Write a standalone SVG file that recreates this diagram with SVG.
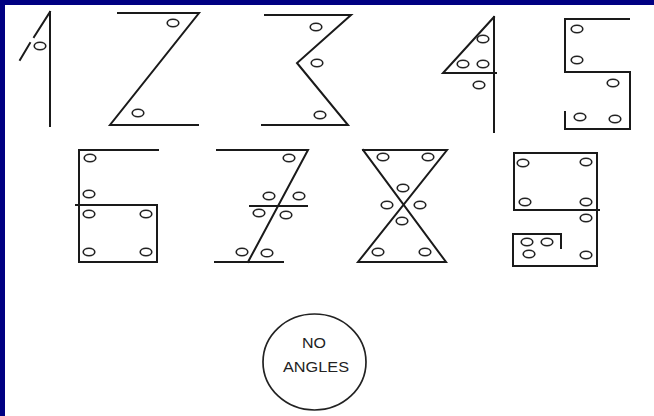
<svg xmlns="http://www.w3.org/2000/svg" width="654" height="416" viewBox="0 0 654 416">
<style>
.ln{stroke:#1a1a1a;stroke-width:2;fill:none;stroke-linecap:square}
.dot{stroke:#222;stroke-width:1.6;fill:#fff}
.lbl{font-family:"Liberation Sans",Arial,sans-serif;font-size:15px;fill:#222;text-anchor:middle}
</style>
<defs>
<ellipse id="o" rx="5.8" ry="3.8" class="dot"/>
</defs>
<rect x="0" y="0" width="654" height="416" fill="#fff"/>
<rect x="0" y="0" width="654" height="5" fill="#000082"/>
<rect x="0" y="0" width="5" height="416" fill="#000082"/>

<g id="digit1">
<path class="ln" d="M50 12V126M50 12L34 37M30 43L20 60"/>
<use href="#o" x="40" y="46"/>
</g>

<g id="digit2">
<path class="ln" d="M118 13H199L110 125H198"/>
<use href="#o" x="173" y="23"/>
<use href="#o" x="138" y="113"/>
</g>

<g id="digit3">
<path class="ln" d="M265 15H351L297 63L348 125H262"/>
<use href="#o" x="316" y="27"/>
<use href="#o" x="317" y="63"/>
<use href="#o" x="320" y="115"/>
</g>

<g id="digit4">
<path class="ln" d="M494 17V132M494 17L443 73H496"/>
<use href="#o" x="483" y="39"/>
<use href="#o" x="463" y="64"/>
<use href="#o" x="483" y="64"/>
<use href="#o" x="479" y="85"/>
</g>

<g id="digit5">
<path class="ln" d="M629 19H565V72H630V129H565V112"/>
<use href="#o" x="577" y="29"/>
<use href="#o" x="577" y="60"/>
<use href="#o" x="613" y="83"/>
<use href="#o" x="580" y="117"/>
<use href="#o" x="615" y="119"/>
</g>

<g id="digit6">
<path class="ln" d="M158 150H79V262H157V205H76"/>
<use href="#o" x="90" y="158"/>
<use href="#o" x="89" y="194"/>
<use href="#o" x="89" y="214"/>
<use href="#o" x="146" y="214"/>
<use href="#o" x="89" y="252"/>
<use href="#o" x="146" y="252"/>
</g>

<g id="digit7">
<path class="ln" d="M217 150H308L248 262M250 206H307M215 262H283"/>
<use href="#o" x="289" y="158"/>
<use href="#o" x="269" y="196"/>
<use href="#o" x="299" y="196"/>
<use href="#o" x="259" y="213"/>
<use href="#o" x="286" y="215"/>
<use href="#o" x="242" y="252"/>
<use href="#o" x="267" y="253"/>
</g>

<g id="digit8">
<path class="ln" d="M363 150H447L358 262H446L363 150"/>
<use href="#o" x="383" y="157"/>
<use href="#o" x="428" y="157"/>
<use href="#o" x="403" y="188"/>
<use href="#o" x="387" y="205"/>
<use href="#o" x="420" y="205"/>
<use href="#o" x="402" y="221"/>
<use href="#o" x="378" y="252"/>
<use href="#o" x="425" y="252"/>
</g>

<g id="digit9">
<path class="ln" d="M514 153H597V266H513V234H561V248M514 153V210H599"/>
<use href="#o" x="523" y="163"/>
<use href="#o" x="586" y="162"/>
<use href="#o" x="525" y="202"/>
<use href="#o" x="586" y="202"/>
<use href="#o" x="586" y="218"/>
<use href="#o" x="527" y="242"/>
<use href="#o" x="547" y="242"/>
<use href="#o" x="529" y="254"/>
<use href="#o" x="586" y="255"/>
</g>

<g id="no-angles">
<ellipse cx="314.5" cy="362" rx="51.5" ry="48" fill="none" stroke="#222" stroke-width="1.7"/>
<text class="lbl" x="314" y="348" textLength="24" lengthAdjust="spacingAndGlyphs">NO</text>
<text class="lbl" x="316" y="372" textLength="66" lengthAdjust="spacingAndGlyphs">ANGLES</text>
</g>
</svg>
